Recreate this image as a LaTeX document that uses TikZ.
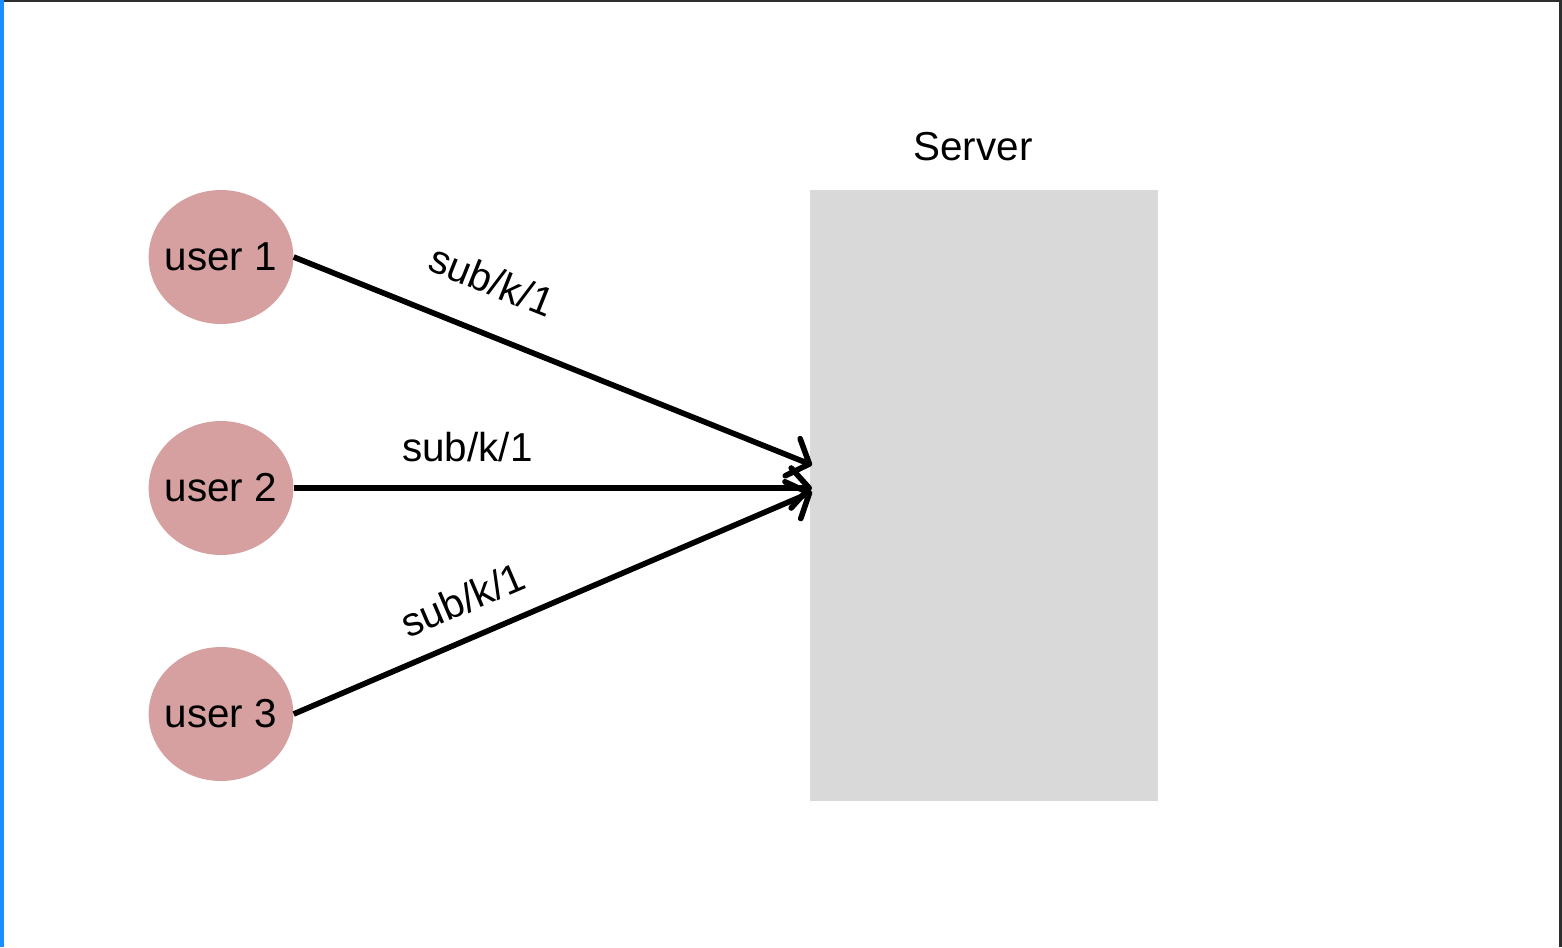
\documentclass[tikz,border=0pt]{standalone}
\usepackage{fontspec}
\setmainfont{Liberation Sans}
\usetikzlibrary{positioning,shapes.geometric,arrows.meta}
\definecolor{UserFill}{HTML}{D5A09F}
\definecolor{ServerFill}{HTML}{D9D9D9}
\definecolor{EdgeBlue}{HTML}{1A8FFF}
\definecolor{FrameDark}{HTML}{2E2E2E}

\begin{document}
\begin{tikzpicture}[x=0.02cm,y=-0.02cm,
    usernode/.style={ellipse,fill=UserFill,minimum width=2.88cm,minimum height=2.68cm,
      inner xsep=-0.1cm,inner ysep=0pt,font=\fontsize{23}{27}\selectfont},
    msgarrow/.style={line width=3.2pt,-{Straight Barb[length=0.36cm,width=0.8cm,round]}},
    msglabel/.style={sloped,font=\fontsize{23}{27}\selectfont}]
  \useasboundingbox (0,0) rectangle (1562,947);
  % frame edges
  \fill[FrameDark] (0,0) rectangle (1562,2);
  \fill[FrameDark] (1559,0) rectangle (1562,947);
  \fill[EdgeBlue] (0,0) rectangle (4,947);
  % server box and its title
  \node[fill=ServerFill,minimum width=6.96cm,minimum height=12.22cm,inner sep=0pt] (server) at (984,495.5) {};
  \node[above=0.45cm of server.north,xshift=-0.22cm,font=\fontsize{23}{27}\selectfont] (srvlabel) {Server};
  % users
  \node[usernode] (u1) at (221,257) {user 1};
  \node[usernode] (u2) at (221,488) {user 2};
  \node[usernode] (u3) at (221,714) {user 3};
  % where the requests reach the server
  \coordinate (in1) at (812,465);
  \coordinate (in2) at (812,488);
  \coordinate (in3) at (812,492);
  \draw[msgarrow] (u1.east) -- node[msglabel,pos=0.345,above=0.57cm] {sub/k/1} (in1);
  \draw[msgarrow] (u2.east) -- node[msglabel,pos=0.335,above=0.35cm] {sub/k/1} (in2);
  \draw[msgarrow] (u3.east) -- node[msglabel,pos=0.355,above=0.3cm] {sub/k/1} (in3);
\end{tikzpicture}
\end{document}
